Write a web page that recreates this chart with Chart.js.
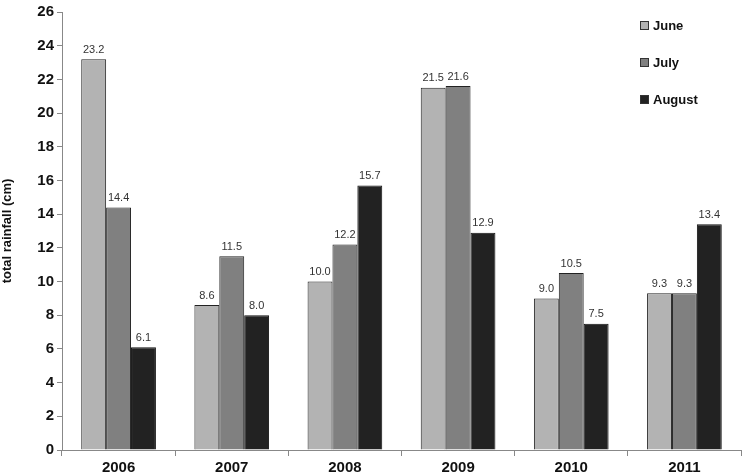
<!DOCTYPE html>
<html>
<head>
<meta charset="utf-8">
<script src="https://cdn.jsdelivr.net/npm/chart.js@4/dist/chart.umd.min.js"></script>
<style>
  html, body { margin: 0; padding: 0; background: #fff; }
  #wrap { width: 742px; height: 473px; }
</style>
</head>
<body>
<div id="wrap"><canvas id="graf"></canvas></div>
<script>
var years = ['2006', '2007', '2008', '2009', '2010', '2011'];
var june = [23.2, 8.6, 10.0, 21.5, 9.0, 9.3];
var july = [14.4, 11.5, 12.2, 21.6, 10.5, 9.3];
var august = [6.1, 8.0, 15.7, 12.9, 7.5, 13.4];

// value labels above each bar
var barLabels = {
    id: 'barLabels',
    afterDatasetsDraw: function(chart){
        var ctx = chart.ctx;
        ctx.save();
        ctx.font = '11px "Liberation Sans", Arial, sans-serif';
        ctx.fillStyle = '#333';
        ctx.textAlign = 'center';
        ctx.textBaseline = 'bottom';
        chart.data.datasets.forEach(function(ds, i){
            chart.getDatasetMeta(i).data.forEach(function(bar, j){
                ctx.fillText(ds.data[j].toFixed(1), bar.x, bar.y - 4);
            });
        });
        ctx.restore();
    }
};

// legend inside the plot, top right
var boxLegend = {
    id: 'boxLegend',
    afterDraw: function(chart){
        var ctx = chart.ctx;
        ctx.save();
        ctx.font = 'bold 13px "Liberation Sans", Arial, sans-serif';
        ctx.textBaseline = 'middle';
        chart.data.datasets.forEach(function(ds, i){
            var y = 25 + i * 37;
            ctx.fillStyle = ds.backgroundColor;
            ctx.fillRect(640, y - 4, 9, 9);
            ctx.strokeStyle = '#333';
            ctx.lineWidth = 1;
            ctx.strokeRect(640.5, y - 3.5, 8, 8);
            ctx.fillStyle = '#111';
            ctx.fillText(ds.label, 653, y + 1);
        });
        ctx.restore();
    }
};

var graf = new Chart(document.getElementById('graf'), {
    type: 'bar',
    data: {
        labels: years,
        datasets: [
            { label: 'June', data: june, backgroundColor: '#b3b3b3', borderColor: '#222', borderWidth: 1 },
            { label: 'July', data: july, backgroundColor: '#808080', borderColor: '#222', borderWidth: 1 },
            { label: 'August', data: august, backgroundColor: '#222222', borderColor: '#111', borderWidth: 1 }
        ]
    },
    options: {
        responsive: true,
        maintainAspectRatio: false,
        animation: false,
        layout: { padding: { top: 6, right: 1, left: 0, bottom: 0 } },
        plugins: {
            legend: { display: false },
            tooltip: { enabled: false }
        },
        datasets: {
            bar: { categoryPercentage: 0.66, barPercentage: 1.0 }
        },
        scales: {
            x: {
                grid: { display: true, drawOnChartArea: false, offset: true, tickLength: 6, color: '#888' },
                border: { color: '#888', width: 1 },
                ticks: {
                    color: '#111',
                    padding: 3,
                    font: { family: '"Liberation Sans", Arial, sans-serif', size: 15, weight: 'bold' }
                },
                afterFit: function(scale){ scale.height = 23; }
            },
            y: {
                min: 0,
                max: 26,
                ticks: {
                    stepSize: 2,
                    color: '#111',
                    padding: 3,
                    font: { family: '"Liberation Sans", Arial, sans-serif', size: 15, weight: 'bold' }
                },
                grid: { display: true, drawOnChartArea: false, tickLength: 5, color: '#888' },
                border: { color: '#888', width: 1 },
                title: {
                    display: true,
                    text: 'total rainfall (cm)',
                    color: '#111',
                    padding: 0,
                    font: { family: '"Liberation Sans", Arial, sans-serif', size: 13, weight: 'bold' }
                },
                afterFit: function(scale){ scale.width = 62; }
            }
        }
    },
    plugins: [barLabels, boxLegend]
});
</script>
</body>
</html>
